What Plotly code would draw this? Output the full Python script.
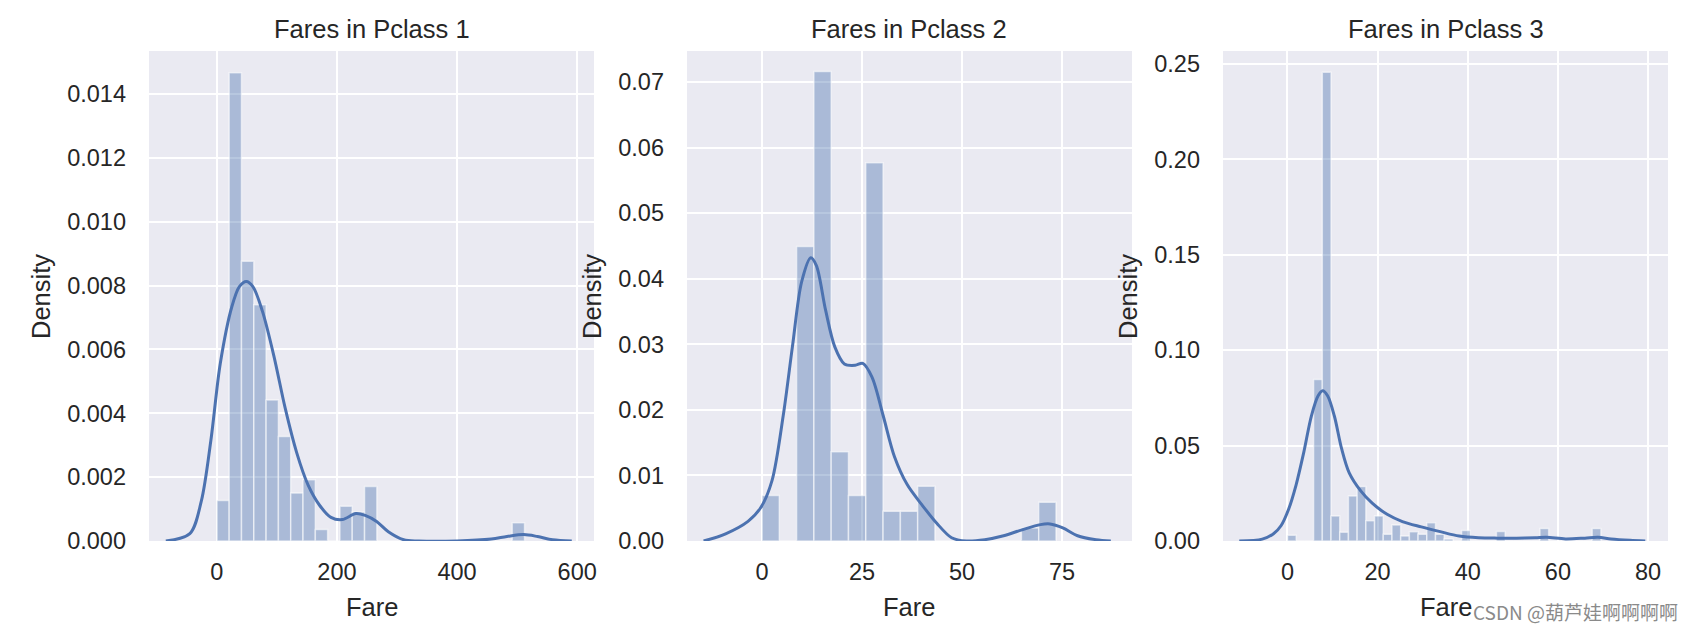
import plotly.graph_objects as go

W, H = 1694, 634

# ---------------- data ----------------
titles = ["Fares in Pclass 1", "Fares in Pclass 2", "Fares in Pclass 3"]
x_label = "Fare"
y_label = "Density"

# Pclass 1 histogram (25 bins from 0 to 512.33)
p1_bin_start = 0.0
p1_bin_width = 512.3292 / 25
p1_density = [0.00127, 0.01467, 0.00876, 0.0074, 0.00442, 0.00327, 0.0015, 0.00192, 0.00036, 0.0,
              0.00109, 0.00091, 0.00171, 0.0, 0.0, 0.0, 0.0, 0.0, 0.0, 0.0,
              0.0, 0.0, 0.0, 0.0, 0.00057]
p1_kde_x = [-85, -45, -26, -10, 5.7, 24.8, 37.5, 49, 60, 75.7, 94.8, 113.8, 132.9, 152, 171, 190,
            209, 231.5, 247, 266, 285.5, 311, 336, 400, 457, 483, 511, 534, 559, 591]
p1_kde_y = [0.0, 0.00023, 0.00124, 0.00315, 0.00556, 0.00733, 0.00797, 0.00813, 0.00797, 0.00721,
            0.00581, 0.00416, 0.00277, 0.00175, 0.00112, 0.00074, 0.00067, 0.00086, 0.0008, 0.00061,
            0.00029, 0.00004, 0.0, 0.0, 0.00006, 0.00014, 0.0002, 0.00014, 0.00004, 0.0]

# Pclass 2 histogram (17 bins from 0 to 73.5)
p2_bin_start = 0.0
p2_bin_width = 73.5 / 17
p2_density = [0.00694, 0.0, 0.0449, 0.0716, 0.01363, 0.00694, 0.0577, 0.00452, 0.00452, 0.00836,
              0.0, 0.0, 0.0, 0.0, 0.0, 0.0020, 0.0059]
p2_kde_x = [-14.6, -9.1, -3.5, -0.3, 2.5, 5.3, 7.6, 9.9, 12.2, 13.6, 15.9, 18.2, 20.6, 23.3, 25.2,
            27.5, 30.3, 33.1, 36.3, 40.0, 43.7, 47.4, 51.1, 55.7, 60.4, 65.0, 69.6, 72.0, 75.2, 78.9,
            83.5, 87.2]
p2_kde_y = [0.0, 0.0011, 0.003, 0.0051, 0.0092, 0.0191, 0.0296, 0.0395, 0.0432, 0.042, 0.0352,
            0.0296, 0.027, 0.0268, 0.0271, 0.025, 0.0191, 0.0129, 0.0086, 0.0055, 0.0027, 0.0005,
            0.0, 0.0002, 0.0008, 0.0017, 0.0025, 0.0026, 0.002, 0.0008, 0.0002, 0.0]

# Pclass 3 histogram (36 bins from 0 to 69.55)
p3_bin_start = 0.0
p3_bin_width = 69.55 / 36
p3_density = [0.003, 0.0, 0.0, 0.0846, 0.2457, 0.0131, 0.0046, 0.0236, 0.0285, 0.0106,
              0.0131, 0.0035, 0.0084, 0.0026, 0.0049, 0.0035, 0.0096, 0.0035, 0.001, 0.0,
              0.0055, 0.0, 0.0, 0.0, 0.005, 0.0, 0.0, 0.0, 0.0, 0.0065,
              0.0, 0.0, 0.0, 0.0, 0.0, 0.0065]
p3_kde_x = [-10.7, -5.6, -3.1, -1.4, 0.25, 1.9, 3.6, 5.3, 6.8, 7.8, 8.9, 10.4, 12.0, 13.7, 16.3,
            18.8, 22.1, 25.5, 29.7, 33.9, 38.1, 42.4, 46.6, 50.8, 55.0, 57.5, 61.7, 66.0, 68.9,
            71.8, 76.0, 79.4]
p3_kde_y = [0.0, 0.001, 0.0038, 0.0081, 0.0166, 0.0293, 0.0463, 0.0655, 0.0761, 0.0787, 0.0761,
            0.0655, 0.0485, 0.0357, 0.0261, 0.0198, 0.014, 0.0102, 0.0074, 0.0049, 0.0026, 0.0017,
            0.0015, 0.0015, 0.0017, 0.0019, 0.0011, 0.0015, 0.0019, 0.0011, 0.0004, 0.0]

x_ranges = [[-113, 628], [-18.75, 92.5], [-14.31, 84.44]]
y_ranges = [[0, 0.01535], [0, 0.07473], [0, 0.2568]]
x_ticks = [[0, 200, 400, 600], [0, 25, 50, 75], [0, 20, 40, 60, 80]]
y_ticks = [[0, 0.002, 0.004, 0.006, 0.008, 0.010, 0.012, 0.014],
           [0, 0.01, 0.02, 0.03, 0.04, 0.05, 0.06, 0.07],
           [0, 0.05, 0.10, 0.15, 0.20, 0.25]]
y_formats = [".3f", ".2f", ".2f"]

watermark = "CSDN @葫芦娃啊啊啊啊"

# ---------------- styling ----------------
BLUE = "#4C72B0"
BAR_FILL = "rgba(76,114,176,0.4)"
BG = "#EAEAF2"
TXT = "#262626"
FONT = "Liberation Sans, Arial, sans-serif"

panel_px = [(149, 594), (687, 1132), (1223, 1668)]
top_px, bottom_px = 51, 541

def px_x(p):
    return p / W

def px_y(p):
    return (H - p) / H

fig = go.Figure()

hists = [(p1_bin_start, p1_bin_width, p1_density),
         (p2_bin_start, p2_bin_width, p2_density),
         (p3_bin_start, p3_bin_width, p3_density)]
kdes = [(p1_kde_x, p1_kde_y), (p2_kde_x, p2_kde_y), (p3_kde_x, p3_kde_y)]

for i in range(3):
    sfx = "" if i == 0 else str(i + 1)
    start, width, dens = hists[i]
    centers = [start + (k + 0.5) * width for k in range(len(dens))]
    fig.add_trace(go.Bar(
        x=centers, y=dens, width=width,
        marker=dict(color=BAR_FILL, line=dict(color="rgba(255,255,255,0.55)", width=1.5)),
        xaxis="x" + sfx, yaxis="y" + sfx, showlegend=False, hoverinfo="skip"))
    kx, ky = kdes[i]
    fig.add_trace(go.Scatter(
        x=kx, y=ky, mode="lines",
        line=dict(color=BLUE, width=3, shape="spline", smoothing=0.9),
        xaxis="x" + sfx, yaxis="y" + sfx, showlegend=False, hoverinfo="skip"))

layout = dict(
    width=W, height=H,
    margin=dict(l=0, r=0, t=0, b=0, autoexpand=False),
    paper_bgcolor="white",
    plot_bgcolor=BG,
    font=dict(family=FONT, color=TXT),
    barmode="overlay",
    showlegend=False,
)

annotations = []
for i in range(3):
    sfx = "" if i == 0 else str(i + 1)
    x0, x1 = panel_px[i]
    layout["xaxis" + sfx] = dict(
        domain=[px_x(x0), px_x(x1)], anchor="y" + sfx,
        range=x_ranges[i], tickvals=x_ticks[i],
        showgrid=True, gridcolor="white", gridwidth=2,
        zeroline=False, showline=False, ticks="", automargin=False,
        tickfont=dict(size=23.5, family=FONT, color=TXT),
        ticklabelstandoff=14,
    )
    layout["yaxis" + sfx] = dict(
        domain=[px_y(bottom_px), px_y(top_px)], anchor="x" + sfx,
        range=y_ranges[i], tickvals=y_ticks[i], tickformat=y_formats[i],
        showgrid=True, gridcolor="white", gridwidth=2,
        zeroline=False, showline=False, ticks="", automargin=False,
        tickfont=dict(size=23.5, family=FONT, color=TXT),
        ticklabelstandoff=22,
    )
    cx = (x0 + x1) / 2
    annotations.append(dict(text=titles[i], x=px_x(cx), y=px_y(29), xref="paper", yref="paper",
                            xanchor="center", yanchor="middle", showarrow=False,
                            font=dict(size=25.5, family=FONT, color=TXT)))
    annotations.append(dict(text=x_label, x=px_x(cx), y=px_y(607), xref="paper", yref="paper",
                            xanchor="center", yanchor="middle", showarrow=False,
                            font=dict(size=25.5, family=FONT, color=TXT)))

for xp in [41, 592, 1128]:
    annotations.append(dict(text=y_label, x=px_x(xp), y=px_y(297), xref="paper", yref="paper",
                            xanchor="center", yanchor="middle", showarrow=False, textangle=-90,
                            font=dict(size=25.5, family=FONT, color=TXT)))

annotations.append(dict(text=watermark, x=px_x(1680), y=px_y(611), xref="paper", yref="paper",
                        xanchor="right", yanchor="middle", showarrow=False,
                        font=dict(size=19, family="Noto Sans CJK SC, Noto Sans, sans-serif",
                                  color="#8a8a8a")))

layout["annotations"] = annotations
fig.update_layout(**layout)

fig.write_html("out.html")
